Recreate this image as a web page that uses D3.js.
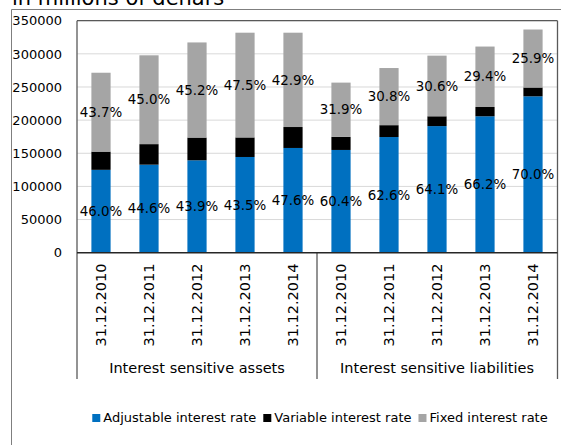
<!DOCTYPE html>
<html><head><meta charset="utf-8">
<script src="https://cdn.jsdelivr.net/npm/d3@7"></script>
<style>body{margin:0;background:#fff}svg{display:block;font-family:"DejaVu Sans",Verdana,sans-serif}</style>
</head><body><svg id="c" width="561" height="445"></svg>
<script>
const title = "in millions of denars";
const groups = ["Interest sensitive assets", "Interest sensitive liabilities"];
const dates = ["31.12.2010", "31.12.2011", "31.12.2012", "31.12.2013", "31.12.2014"];
const categories = [0,1,2,3,4,5,6,7,8,9];
const adjustable = [125000, 132800, 139400, 144400, 158000, 155000, 174500, 191000, 205800, 235900];
const variable   = [27500, 31000, 34300, 29500, 31600, 19700, 17900, 14800, 14000, 13300];
const fixed      = [119000, 134000, 143500, 158000, 142300, 81900, 86200, 91500, 91200, 87500];
const adjustableLabels = ["46.0%", "44.6%", "43.9%", "43.5%", "47.6%", "60.4%", "62.6%", "64.1%", "66.2%", "70.0%"];
const fixedLabels      = ["43.7%", "45.0%", "45.2%", "47.5%", "42.9%", "31.9%", "30.8%", "30.6%", "29.4%", "25.9%"];
const yTicks = [0, 50000, 100000, 150000, 200000, 250000, 300000, 350000];
const seriesNames = ["Adjustable interest rate", "Variable interest rate", "Fixed interest rate"];
const colors = ["#0070C0", "#000000", "#A5A5A5"];

const svg = d3.select("#c");
const L = 77, R = 557, T = 20.7, B = 252.7;

// title
svg.append("text").attr("x", 12).attr("y", 4.5).attr("font-size", 21).attr("fill", "#000").text(title);
// outer border
svg.append("path").attr("d", "M11.5,445 V9.5 H561").attr("fill", "none").attr("stroke", "#7f7f7f").attr("stroke-width", 1);

const x = d3.scaleBand().domain(categories).range([L, R]).paddingInner(0.6).paddingOuter(0.3);
const y = d3.scaleLinear().domain([0, 350000]).range([B, T]);

// gridlines
svg.append("g").selectAll("line").data(yTicks.filter(d => d > 0)).join("line")
  .attr("x1", L).attr("x2", R).attr("y1", d => y(d)).attr("y2", d => y(d))
  .attr("stroke", "#d9d9d9").attr("stroke-width", 1);

// y axis labels
const yAxis = d3.axisLeft(y).tickValues(yTicks).tickSize(0).tickPadding(0).tickFormat(d3.format("d"));
const ga = svg.append("g").attr("transform", `translate(62,0)`).call(yAxis);
ga.select(".domain").remove();
ga.selectAll("text").attr("font-size", 13).attr("fill", "#000").attr("font-family", "DejaVu Sans, Verdana, sans-serif");

// stacked bars
const rows = categories.map(i => ({ i, a: adjustable[i], v: variable[i], f: fixed[i] }));
const stack = d3.stack().keys(["a", "v", "f"])(rows);
svg.append("g").selectAll("g").data(stack).join("g").attr("fill", (d, k) => colors[k])
  .selectAll("rect").data(d => d).join("rect")
  .attr("x", d => x(d.data.i)).attr("width", x.bandwidth())
  .attr("y", d => y(d[1])).attr("height", d => y(d[0]) - y(d[1]));

// data labels
const lab = svg.append("g").attr("font-size", 13.4).attr("fill", "#000").attr("text-anchor", "middle");
lab.selectAll("text.a").data(stack[0]).join("text").attr("class", "a")
  .attr("x", d => x(d.data.i) + x.bandwidth() / 2).attr("y", d => (y(d[0]) + y(d[1])) / 2)
  .attr("dy", "0.35em").text(d => adjustableLabels[d.data.i]);
lab.selectAll("text.f").data(stack[2]).join("text").attr("class", "f")
  .attr("x", d => x(d.data.i) + x.bandwidth() / 2).attr("y", d => (y(d[0]) + y(d[1])) / 2)
  .attr("dy", "0.35em").text(d => fixedLabels[d.data.i]);

// plot frame
const frame = "#595959";
svg.append("line").attr("x1", L).attr("x2", R + 0.5).attr("y1", T).attr("y2", T).attr("stroke", frame).attr("stroke-width", 1.3);
svg.append("line").attr("x1", R + 0.5).attr("x2", R + 0.5).attr("y1", T).attr("y2", 379).attr("stroke", frame).attr("stroke-width", 1.3);
svg.append("line").attr("x1", L).attr("x2", L).attr("y1", T).attr("y2", 379).attr("stroke", frame).attr("stroke-width", 1.3);
const mid = (x(4) + x.bandwidth() + x(5)) / 2;
svg.append("line").attr("x1", mid).attr("x2", mid).attr("y1", B).attr("y2", 379).attr("stroke", frame).attr("stroke-width", 1.3);
svg.append("line").attr("x1", L).attr("x2", R + 0.5).attr("y1", B).attr("y2", B).attr("stroke", "#262626").attr("stroke-width", 1.6);

// category tick labels (rotated)
svg.append("g").attr("font-size", 14.5).attr("fill", "#000").selectAll("text").data(categories).join("text")
  .attr("transform", d => `translate(${x(d) + x.bandwidth() / 2},263.5) rotate(-90)`)
  .attr("text-anchor", "end").attr("dy", "0.35em").text(d => dates[d % 5]);

// group labels
svg.append("g").attr("font-size", 14.5).attr("fill", "#000").attr("text-anchor", "middle")
  .selectAll("text").data(groups).join("text")
  .attr("x", (d, k) => k === 0 ? (L + mid) / 2 : (mid + R) / 2).attr("y", 368).attr("dy", "0.35em").text(d => d);

// legend
const lg = svg.append("g").attr("font-size", 13);
let cx = 0;
const items = seriesNames.map((n, k) => {
  const g = lg.append("g");
  g.append("rect").attr("x", 0).attr("y", -8).attr("width", 8).attr("height", 8).attr("fill", colors[k]);
  const t = g.append("text").attr("x", 11).attr("y", 0).attr("fill", "#000").text(n);
  const w = 11 + t.node().getComputedTextLength();
  g.attr("transform", `translate(${cx},0)`);
  cx += w + 7;
  return g;
});
const total = cx - 7;
lg.attr("transform", `translate(${320 - total / 2},422)`);
</script></body></html>
